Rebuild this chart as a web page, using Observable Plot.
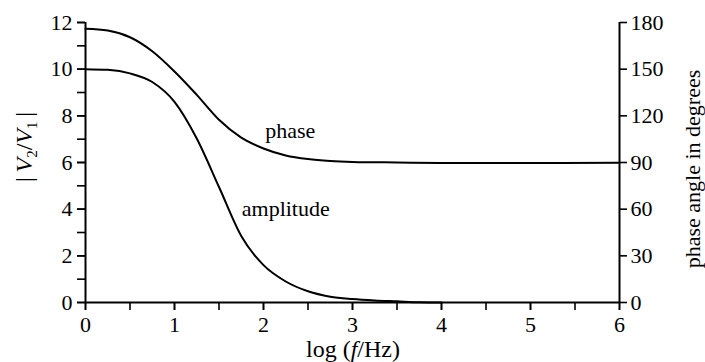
<!DOCTYPE html>
<html>
<head>
<meta charset="utf-8">
<script src="https://cdn.jsdelivr.net/npm/d3@7"></script>
<script src="https://cdn.jsdelivr.net/npm/@observablehq/plot@0.6"></script>
<style>
  html, body { margin: 0; padding: 0; background: #fff; }
</style>
</head>
<body>
<div id="chart"></div>
<script>
// log10(f/Hz) positions and values
const ampX = [0, 0.25, 0.5, 0.75, 1.0, 1.25, 1.5, 1.75, 2.0, 2.25, 2.5, 2.75, 3.0, 3.25, 3.5, 3.75, 4.0];
const amplitude = [10.0, 9.97, 9.82, 9.45, 8.6, 7.03, 4.95, 2.85, 1.6, 0.9, 0.48, 0.25, 0.15, 0.09, 0.05, 0.01, 0.0];
const phaseX = [0, 0.25, 0.5, 0.75, 1.0, 1.25, 1.5, 1.75, 2.0, 2.25, 2.5, 2.75, 3.0, 3.5, 4.0, 5.0, 6.0];
const phaseDeg = [176, 174.8, 170.5, 161.5, 148.5, 133.5, 117.5, 106, 99, 94.5, 92.2, 91, 90.4, 90, 89.7, 89.6, 89.8];
const xTicks = [0, 1, 2, 3, 4, 5, 6];
const xMinorTicks = [0, 0.5, 1, 1.5, 2, 2.5, 3, 3.5, 4, 4.5, 5, 5.5, 6];
const leftTicks = [0, 2, 4, 6, 8, 10, 12];
const leftMinorTicks = [0, 1, 2, 3, 4, 5, 6, 7, 8, 9, 10, 11, 12];
const rightTicks = [0, 30, 60, 90, 120, 150, 180];
const curveLabels = [
  {x: 2.3, y: 7.34, text: "phase"},
  {x: 2.25, y: 4.03, text: "amplitude"}
];

const degPerUnit = 15; // 180 degrees spans the 0..12 left axis

const ampData = ampX.map((x, i) => ({x, y: amplitude[i]}));
const phaseData = phaseX.map((x, i) => ({x, y: phaseDeg[i] / degPerUnit}));

const serif = "Liberation Serif, Times New Roman, serif";

const svg = Plot.plot({
  width: 705,
  height: 362,
  marginLeft: 85,
  marginRight: 86,
  marginTop: 22,
  marginBottom: 60,
  style: {fontFamily: serif, fontSize: "22px", color: "black", background: "white"},
  x: {domain: [0, 6]},
  y: {domain: [0, 12]},
  marks: [
    Plot.axisX({ticks: xMinorTicks, tickSize: 8, tickFormat: () => "", label: null, strokeWidth: 1.6}),
    Plot.axisX({ticks: xTicks, tickSize: 8, tickPadding: 6, tickFormat: d => String(d), label: null, fontSize: 22, strokeWidth: 1.6}),
    Plot.axisY({ticks: leftMinorTicks, tickSize: 8, tickFormat: () => "", label: null, strokeWidth: 1.6}),
    Plot.axisY({ticks: leftTicks, tickSize: 8, tickPadding: 5, tickFormat: d => String(d), label: null, fontSize: 22, strokeWidth: 1.6}),
    Plot.axisY({anchor: "right", ticks: rightTicks.map(d => d / degPerUnit), tickFormat: d => String(Math.round(d * degPerUnit)),
      tickSize: 7, tickPadding: 4, label: null, fontSize: 22, strokeWidth: 1.6}),
    Plot.ruleX([0, 6], {strokeWidth: 2}),
    Plot.ruleY([0], {strokeWidth: 2}),
    Plot.line(ampData, {x: "x", y: "y", curve: "monotone-x", stroke: "black", strokeWidth: 2}),
    Plot.line(phaseData, {x: "x", y: "y", curve: "monotone-x", stroke: "black", strokeWidth: 2}),
    Plot.text(curveLabels, {x: "x", y: "y", text: "text", fontFamily: serif, fontSize: 22, fill: "black"})
  ]
});

const s = d3.select(svg);
// bottom title
const bt = s.append("text")
  .attr("x", 353).attr("y", 357)
  .attr("text-anchor", "middle")
  .attr("font-family", serif).attr("font-size", 24).attr("fill", "black");
bt.append("tspan").text("log (");
bt.append("tspan").attr("font-style", "italic").text("f");
bt.append("tspan").text("/Hz)");

// left title
const lt = s.append("text")
  .attr("transform", "translate(32,147) rotate(-90)")
  .attr("text-anchor", "middle")
  .attr("font-family", serif).attr("font-size", 24).attr("fill", "black");
lt.append("tspan").text("|\u2009");
lt.append("tspan").attr("font-style", "italic").text("V");
lt.append("tspan").attr("font-size", 15).attr("dy", 5).text("2");
lt.append("tspan").attr("dy", -5).text("/");
lt.append("tspan").attr("font-style", "italic").text("V");
lt.append("tspan").attr("font-size", 15).attr("dy", 5).text("1");
lt.append("tspan").attr("dy", -5).text("\u2009|");

// right title
s.append("text")
  .attr("transform", "translate(700,169) rotate(-90)")
  .attr("text-anchor", "middle")
  .attr("font-family", serif).attr("font-size", 22).attr("fill", "black")
  .text("phase angle in degrees");

document.getElementById("chart").appendChild(svg);
</script>
</body>
</html>
